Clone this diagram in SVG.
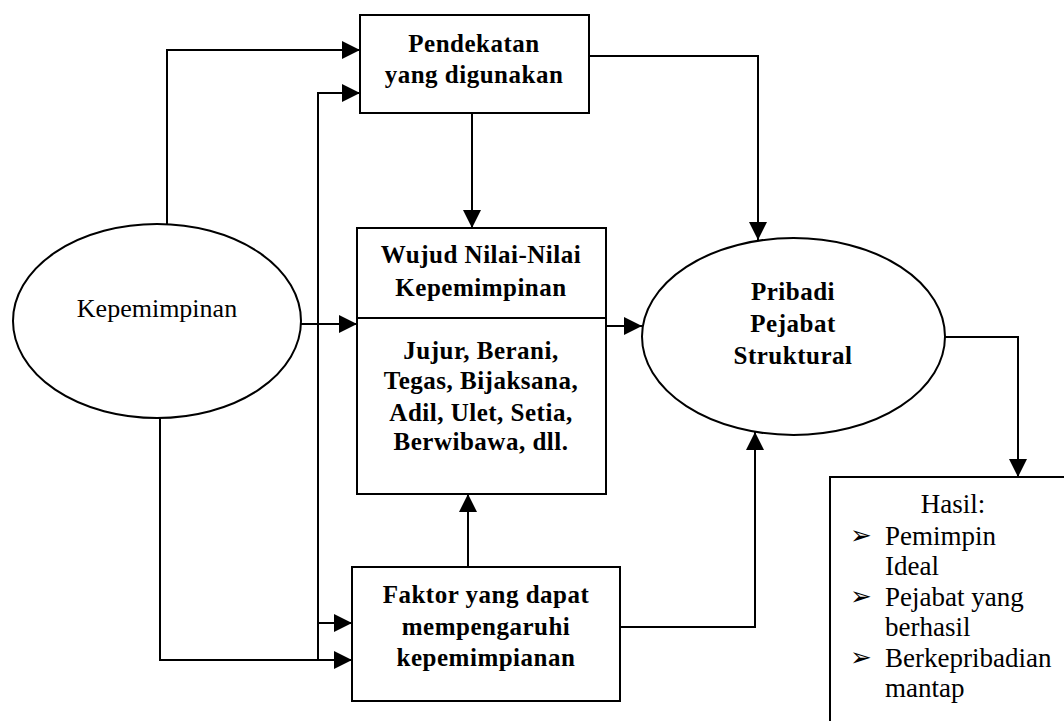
<svg xmlns="http://www.w3.org/2000/svg" width="1064" height="721" viewBox="0 0 1064 721">
<defs>
<marker id="ah" markerUnits="userSpaceOnUse" markerWidth="20" markerHeight="18" refX="18" refY="9" orient="auto">
<path d="M0,0 L18,9 L0,18 Z" fill="#000"/>
</marker>
<style>
.box{fill:#fff;stroke:#000;stroke-width:2}
.conn{fill:none;stroke:#000;stroke-width:2;marker-end:url(#ah)}
.line{fill:none;stroke:#000;stroke-width:2}
.b{font-family:'Liberation Serif','Times New Roman','DejaVu Serif',serif;font-weight:bold;font-size:25px;letter-spacing:0.5px;text-anchor:middle;fill:#000}
.r{font-family:'Liberation Serif','Times New Roman','DejaVu Serif',serif;font-size:26px;fill:#000}
.h{font-family:'Liberation Serif','Times New Roman','DejaVu Serif',serif;font-size:27px;fill:#000}
.bul{font-family:'DejaVu Sans',sans-serif;font-size:26px;fill:#000}
</style>
</defs>
<rect width="1064" height="721" fill="#fff"/>
<g id="connectors">
<path class="conn" d="M167,224 V50 H360"/>
<path class="conn" d="M318,660 V93 H360"/>
<path class="conn" d="M160,418 V660 H352"/>
<path class="conn" d="M318,623 H352"/>
<path class="conn" d="M472,113 V228"/>
<path class="conn" d="M589,56 H758 V240"/>
<path class="conn" d="M300,324 H357"/>
<path class="conn" d="M606,326 H642"/>
<path class="conn" d="M468,567 V494"/>
<path class="conn" d="M620,627 H755 V432"/>
<path class="conn" d="M945,337 H1018 V477"/>
</g>
<g id="pendekatan">
<rect class="box" x="360" y="15" width="229" height="98"/>
<text class="b" x="474" y="52">Pendekatan</text>
<text class="b" x="474" y="83">yang digunakan</text>
</g>
<g id="kepemimpinan">
<ellipse class="box" cx="157" cy="321" rx="144" ry="97"/>
<text class="r" x="157" y="317" text-anchor="middle">Kepemimpinan</text>
</g>
<g id="wujud">
<rect class="box" x="357" y="228" width="249" height="266"/>
<line class="line" x1="357" y1="318" x2="606" y2="318"/>
<text class="b" x="481" y="263">Wujud Nilai-Nilai</text>
<text class="b" x="481" y="296">Kepemimpinan</text>
<text class="b" x="481" y="359">Jujur, Berani,</text>
<text class="b" x="481" y="389">Tegas, Bijaksana,</text>
<text class="b" x="481" y="421">Adil, Ulet, Setia,</text>
<text class="b" x="481" y="450">Berwibawa, dll.</text>
</g>
<g id="pribadi">
<ellipse class="box" cx="793.5" cy="336.5" rx="151.5" ry="98.5"/>
<text class="b" x="793" y="300">Pribadi</text>
<text class="b" x="793" y="332">Pejabat</text>
<text class="b" x="793" y="364">Struktural</text>
</g>
<g id="faktor">
<rect class="box" x="352" y="567" width="268" height="134"/>
<text class="b" x="486" y="603">Faktor yang dapat</text>
<text class="b" x="486" y="635">mempengaruhi</text>
<text class="b" x="486" y="666">kepemimpianan</text>
</g>
<g id="hasil">
<rect class="box" x="830" y="477" width="300" height="300"/>
<text class="h" x="953" y="513" text-anchor="middle">Hasil:</text>
<text class="bul" x="850" y="544">➢</text>
<text class="h" x="885" y="545">Pemimpin</text>
<text class="h" x="885" y="575">Ideal</text>
<text class="bul" x="850" y="605">➢</text>
<text class="h" x="885" y="606">Pejabat yang</text>
<text class="h" x="885" y="636">berhasil</text>
<text class="bul" x="850" y="666">➢</text>
<text class="h" x="885" y="667">Berkepribadian</text>
<text class="h" x="885" y="697">mantap</text>
</g>
</svg>
